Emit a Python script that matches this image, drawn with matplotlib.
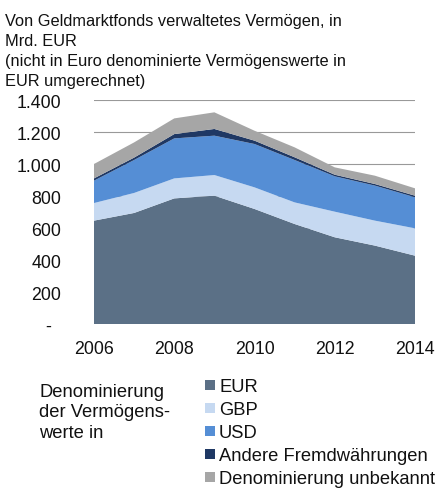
import matplotlib.pyplot as plt
from matplotlib.patches import Rectangle

plt.rcParams['font.family'] = ['Liberation Sans', 'DejaVu Sans']

# Data (Mrd. EUR)
years = [2006, 2007, 2008, 2009, 2010, 2011, 2012, 2013, 2014]
eur = [646, 694, 785, 802, 719, 625, 542, 490, 427]
gbp = [110, 125, 125, 129, 135, 135, 160, 156, 171]
usd = [140, 206, 250, 246, 271, 265, 221, 219, 194]
andere = [14, 15, 27, 42, 21, 17, 10, 10, 10]
unbekannt = [90, 95, 98, 104, 62, 62, 46, 52, 46]

labels = ['EUR', 'GBP', 'USD', 'Andere Fremdwährungen', 'Denominierung unbekannt']
colors = ['#5B7086', '#C6D9F1', '#558ED5', '#1F3864', '#A6A6A6']
y_ticks = [0, 200, 400, 600, 800, 1000, 1200, 1400]
y_ticklabels = ['-  ', '200', '400', '600', '800', '1.000', '1.200', '1.400']
title_lines = ['Von Geldmarktfonds verwaltetes Vermögen, in', 'Mrd. EUR',
               '(nicht in Euro denominierte Vermögenswerte in', 'EUR umgerechnet)']
side_lines = ['Denominierung', 'der Vermögens-', 'werte in']

W, H = 436, 489
fig = plt.figure(figsize=(W / 100, H / 100), dpi=100)
ax = fig.add_axes([94 / W, 1 - 325 / H, 321 / W, 224 / H])

ax.stackplot(years, eur, gbp, usd, andere, unbekannt, colors=colors, linewidth=0, zorder=2)

ax.set_xlim(2006, 2014)
ax.set_ylim(0, 1400)
ax.set_yticks(y_ticks)
ax.set_yticklabels(y_ticklabels)
ax.set_xticks([2006, 2008, 2010, 2012, 2014])
ax.grid(axis='y', color='#999999', linewidth=0.8, zorder=1)
ax.set_axisbelow(True)
for s in ax.spines.values():
    s.set_visible(False)
ax.tick_params(axis='y', length=0, pad=23.5, labelsize=12.8, labelcolor='#111111')
ax.tick_params(axis='x', length=0, pad=11.5, labelsize=12.8, labelcolor='#111111')

# title, one line at a time (baselines in px)
for i, line in enumerate(title_lines):
    fig.text(5 / W, 1 - (26 + 20 * i) / H, line, ha='left', va='baseline',
             fontsize=11.8, color='#111111')

# left-hand legend caption
for i, line in enumerate(side_lines):
    fig.text(39 / W, 1 - (397 + 20.5 * i) / H, line, ha='left', va='baseline',
             fontsize=13.2, color='#111111')

# legend: small squares plus labels (the last one runs off the edge, as in the original)
for i, (lab, col) in enumerate(zip(labels, colors)):
    yc = 386 + 22.9 * i
    fig.patches.append(Rectangle((205 / W, 1 - (yc + 5) / H), 10 / W, 10 / H,
                                 transform=fig.transFigure, facecolor=col,
                                 edgecolor='none'))
    fig.text(219 / W, 1 - (yc + 6.5) / H, lab, ha='left', va='baseline',
             fontsize=13.2, color='#111111')

fig.savefig('out.png', dpi=100)
